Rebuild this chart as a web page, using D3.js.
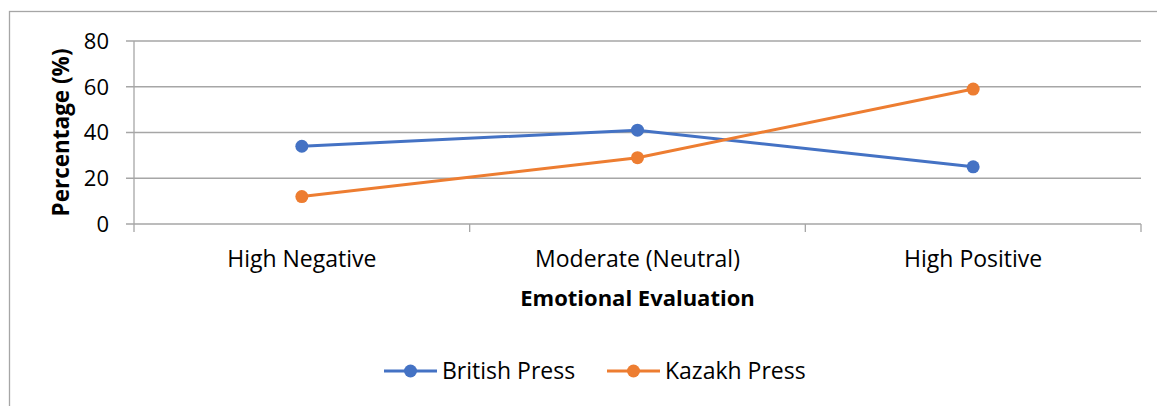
<!DOCTYPE html>
<html>
<head>
<meta charset="utf-8">
<script src="https://cdn.jsdelivr.net/npm/d3@7"></script>
<style>
  body { margin: 0; background: #fff; }
  text { font-family: "Open Sans", sans-serif; fill: #000; }
</style>
</head>
<body>
<script>
var categories = ["High Negative", "Moderate (Neutral)", "High Positive"];
var british = [34, 41, 25];
var kazakh = [12, 29, 59];
var yTicks = [0, 20, 40, 60, 80];

var width = 1157, height = 406;
var plotLeft = 134, plotRight = 1141, plotTop = 41, plotBottom = 224;

var series = [
  {name: "British Press", values: british, color: "#4472C4"},
  {name: "Kazakh Press", values: kazakh, color: "#ED7D31"}
];

var svg = d3.select("body").append("svg")
    .attr("width", width)
    .attr("height", height);

// chart frame
svg.append("rect")
    .attr("x", 9.5).attr("y", 11.5)
    .attr("width", 1160).attr("height", 420)
    .attr("fill", "none")
    .attr("stroke", "#a6a6a6")
    .attr("stroke-width", 1.3);

var x = d3.scaleBand().domain(categories).range([plotLeft, plotRight]);
var y = d3.scaleLinear().domain([0, 80]).range([plotBottom, plotTop]);

// gridlines + y ticks
svg.append("g")
  .selectAll("line")
  .data(yTicks)
  .join("line")
    .attr("x1", plotLeft - 8).attr("x2", plotRight)
    .attr("y1", d => y(d)).attr("y2", d => y(d))
    .attr("stroke", "#a6a6a6")
    .attr("stroke-width", 1.3);

svg.append("line")
    .attr("x1", plotLeft).attr("x2", plotLeft)
    .attr("y1", plotTop).attr("y2", plotBottom + 8)
    .attr("stroke", "#a6a6a6").attr("stroke-width", 1.3);

// category tick marks
var edges = categories.map(c => x(c)).concat([plotRight]);
svg.append("g")
  .selectAll("line")
  .data(edges.slice(1))
  .join("line")
    .attr("x1", d => d).attr("x2", d => d)
    .attr("y1", plotBottom).attr("y2", plotBottom + 8)
    .attr("stroke", "#a6a6a6").attr("stroke-width", 1.3);

svg.append("g")
  .selectAll("text")
  .data(yTicks)
  .join("text")
    .attr("x", 109)
    .attr("y", d => y(d))
    .attr("dy", "0.36em")
    .attr("text-anchor", "end")
    .style("font-size", "22px")
    .text(d => d);

svg.append("g")
  .selectAll("text")
  .data(categories)
  .join("text")
    .attr("x", d => x(d) + x.bandwidth() / 2)
    .attr("y", 267)
    .attr("text-anchor", "middle")
    .style("font-size", "23px")
    .text(d => d);

svg.append("text")
    .attr("x", (plotLeft + plotRight) / 2)
    .attr("y", 306)
    .attr("text-anchor", "middle")
    .style("font-size", "22px")
    .style("font-weight", "bold")
    .text("Emotional Evaluation");

svg.append("text")
    .attr("transform", "translate(69," + ((plotTop + plotBottom) / 2) + ") rotate(-90)")
    .attr("text-anchor", "middle")
    .style("font-size", "22.5px")
    .style("font-weight", "bold")
    .text("Percentage (%)");

var line = d3.line()
    .x((d, i) => x(categories[i]) + x.bandwidth() / 2)
    .y(d => y(d));

series.forEach(function(s) {
  var g = svg.append("g");
  g.append("path")
      .attr("d", line(s.values))
      .attr("fill", "none")
      .attr("stroke", s.color)
      .attr("stroke-width", 3);
  g.selectAll("circle")
    .data(s.values)
    .join("circle")
      .attr("cx", (d, i) => x(categories[i]) + x.bandwidth() / 2)
      .attr("cy", d => y(d))
      .attr("r", 6.5)
      .attr("fill", s.color);
});

// legend
var legendX = [384, 607];
var legend = svg.append("g")
  .selectAll("g")
  .data(series)
  .join("g")
    .attr("transform", (d, i) => "translate(" + legendX[i] + ",371)");

legend.append("line")
    .attr("x1", 0).attr("x2", 53)
    .attr("stroke", d => d.color)
    .attr("stroke-width", 3);
legend.append("circle")
    .attr("cx", 26.5).attr("r", 6.5)
    .attr("fill", d => d.color);
legend.append("text")
    .attr("x", 58)
    .attr("dy", "0.36em")
    .style("font-size", "23px")
    .text(d => d.name);
</script>
</body>
</html>
